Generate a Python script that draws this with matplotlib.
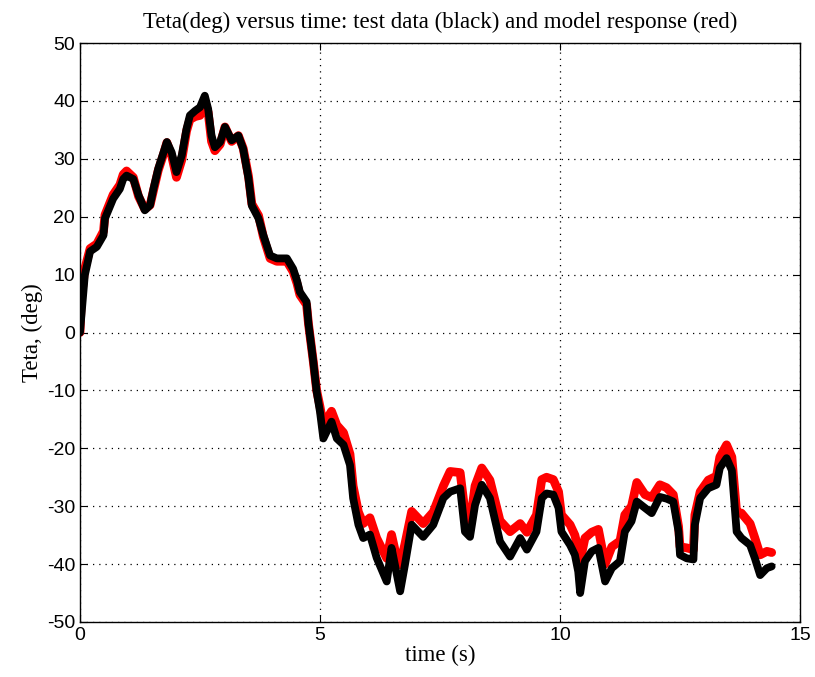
import matplotlib
matplotlib.use('Agg')
import matplotlib.pyplot as plt

# time axis (s), shared by both curves
t = [0.0, 0.03, 0.1, 0.21, 0.35, 0.49, 0.52, 0.69, 0.83, 0.9, 0.97, 1.11, 1.22, 1.35, 1.46, 1.53,
     1.63, 1.74, 1.81, 1.91, 2.01, 2.12, 2.22, 2.29, 2.40, 2.50, 2.60, 2.67, 2.74, 2.81, 2.92, 3.02,
     3.16, 3.30, 3.40, 3.51, 3.58, 3.72, 3.82, 3.96, 4.10, 4.31, 4.44, 4.52, 4.58, 4.72, 4.76, 4.86,
     4.93, 5.00, 5.07, 5.14, 5.24, 5.35, 5.49, 5.625, 5.69, 5.80, 5.90, 6.04, 6.18, 6.39, 6.49, 6.56,
     6.67, 6.77, 6.91, 7.15, 7.36, 7.57, 7.71, 7.92, 8.02, 8.125, 8.23, 8.37, 8.54, 8.75, 8.96, 9.17,
     9.31, 9.51, 9.62, 9.72, 9.86, 9.97, 10.03, 10.21, 10.31, 10.38, 10.42, 10.52, 10.66, 10.80, 10.94,
     11.08, 11.25, 11.35, 11.49, 11.60, 11.77, 11.91, 12.08, 12.22, 12.36, 12.47, 12.50, 12.64, 12.78,
     12.81, 12.92, 13.09, 13.26, 13.33, 13.47, 13.58, 13.68, 13.78, 13.96, 14.06, 14.17, 14.31, 14.41]

# test data (black)
teta_test = [0, 3, 9.9, 14, 14.8, 16.8, 19.7, 23.1, 24.8, 26.5, 27.1, 26.5, 23.7, 21.1, 22, 24.8,
             28.3, 31.1, 32.9, 31.1, 27.7, 30.6, 35.2, 37.5, 38.3, 38.9, 40.9, 38.6, 34, 32, 32.9, 35.5,
             33.2, 34, 31.7, 26.6, 21.9, 19.7, 16.8, 13.3, 12.8, 12.8, 11, 9, 7, 5.3, 1.5, -5,
             -10.2, -13.7, -18.3, -17.1, -15.4, -18.3, -19.4, -22.9, -28.6, -33.2, -35.5, -34.9, -38.9, -43, -37.2, -40.1,
             -44.7, -40.1, -33.2, -35.3, -33.2, -28.6, -27.5, -26.9, -34.4, -35.3, -29.8, -26.3, -28.6, -36.1, -38.7, -35.5,
             -37.5, -34.4, -28.6, -27.8, -28, -30.3, -34.4, -36.7, -38.4, -41.3, -45, -39.5, -37.8, -37.2, -43,
             -40.7, -39.5, -34.4, -32.6, -29.2, -30.3, -31.2, -28.4, -28.7, -29.2, -34.4, -38.4, -39, -39.2,
             -33.2, -28.6, -26.9, -26.3, -23.4, -21.7, -23.8, -34.4, -35.5, -36.7, -39, -41.9, -40.7, -40.4]

# model response (red)
teta_model = [0, 6, 11, 14.5, 15.3, 17.5, 20.3, 23.8, 25.5, 27.3, 27.9, 26.8, 23.5, 21.3, 22, 24.5,
              28, 30.8, 32.8, 30.5, 26.8, 29.8, 34.8, 36.8, 37.3, 37.5, 40, 38, 33, 31.4, 32.5, 35.5,
              33, 34, 31.8, 27, 22.2, 20.2, 16.5, 12.8, 12.3, 12.3, 10.5, 8.5, 6.5, 4.8, 1.5, -5,
              -10, -12.8, -16, -15, -13.6, -16, -17.3, -21, -26.5, -31, -33, -32, -35.5, -39, -34.9, -37.5,
              -40.1, -36.5, -30.9, -33, -31, -26.5, -24, -24.2, -31, -33, -26.5, -23.4, -25.5, -32.5, -34.4, -33,
              -34.5, -31.5, -25.4, -25, -25.4, -27.5, -31.5, -33.2, -35, -37.5, -39.5, -35.5, -34.5, -34, -40,
              -37, -36, -31.5, -30, -25.9, -28, -28.5, -26.3, -26.8, -28, -33.5, -37, -37.2, -37.5,
              -31.5, -27.5, -25.5, -24.8, -21.5, -19.4, -21.5, -31, -31.2, -33, -35.5, -38.4, -37.8, -38]

xticks = [0, 5, 10, 15]
yticks = list(range(-50, 51, 10))

plt.rcParams['font.family'] = ['Liberation Sans', 'DejaVu Sans']
plt.rcParams['axes.unicode_minus'] = False

fig = plt.figure(figsize=(8.15, 6.77), dpi=100)
ax = fig.add_axes([80 / 815, 55 / 677, 720 / 815, 579 / 677])

ax.plot(t, teta_model, color='red', lw=6.3, solid_joinstyle='round', solid_capstyle='round')
ax.plot(t, teta_test, color='black', lw=5.6, solid_joinstyle='round', solid_capstyle='round')

ax.set_xlim(0, 15)
ax.set_ylim(-50, 50)
ax.set_xticks(xticks)
ax.set_yticks(yticks)
ax.tick_params(direction='in', length=5, width=0.8, labelsize=14, top=True, right=True)
ax.grid(True, color='black', linestyle=(0, (1, 4)), linewidth=0.9)
for s in ax.spines.values():
    s.set_linewidth(1.0)

serif = ['Liberation Serif', 'DejaVu Serif']
ax.set_title('Teta(deg) versus time: test data (black) and model response (red)',
             family=serif, fontsize=16.5, pad=11)
ax.set_xlabel('time (s)', family=serif, fontsize=16.5, labelpad=1)
ax.set_ylabel('Teta, (deg)', family=serif, fontsize=16.5, labelpad=3)

fig.savefig('out.png', dpi=100)
